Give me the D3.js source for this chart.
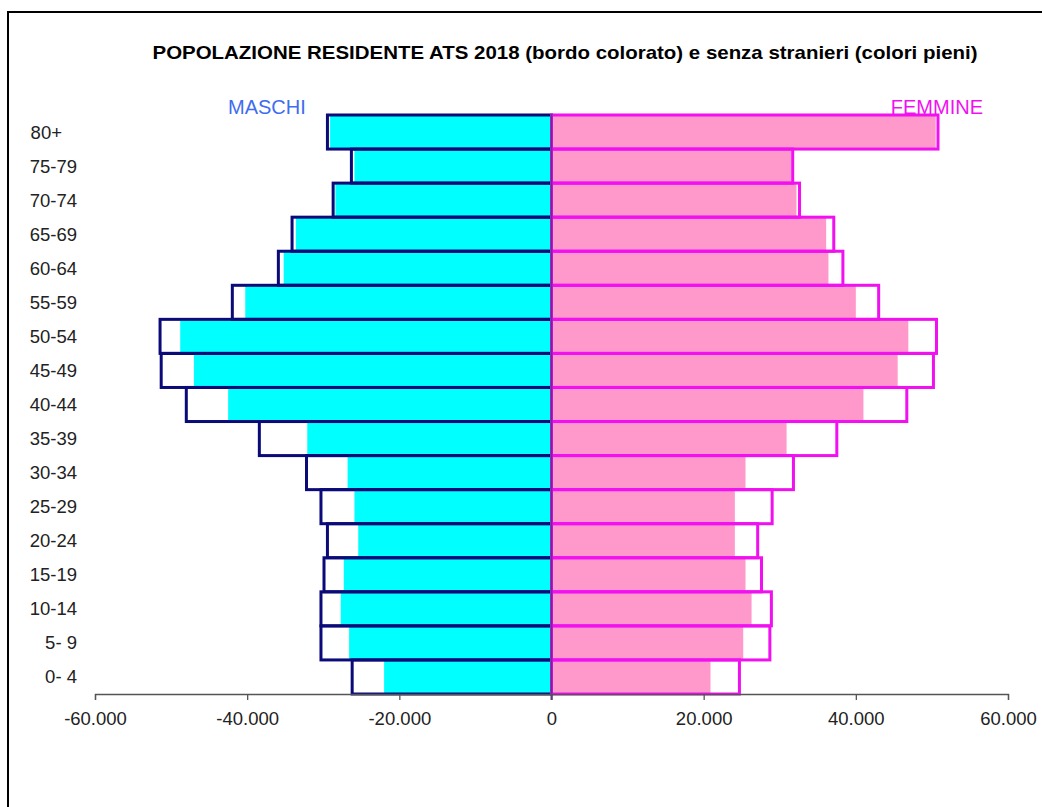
<!DOCTYPE html>
<html>
<head>
<meta charset="utf-8">
<script src="https://cdn.jsdelivr.net/npm/d3@7"></script>
<style>
  body { margin: 0; background: #fff; }
  text { font-family: "Liberation Sans", Arial, sans-serif; }
</style>
</head>
<body>
<div id="chart"></div>
<script>
// age classes, bottom to top
let ageClasses = ["0- 4", "5- 9", "10-14", "15-19", "20-24", "25-29", "30-34", "35-39",
  "40-44", "45-49", "50-54", "55-59", "60-64", "65-69", "70-74", "75-79", "80+"];

// total residents (outlined bars)
let maschiTot = [26200, 30300, 30300, 29900, 29450, 30300, 32200, 38400,
  48000, 51300, 51450, 41950, 35900, 34100, 28700, 26300, 29450];
let femmineTot = [24700, 28700, 28900, 27600, 27100, 29000, 31800, 37500,
  46700, 50200, 50600, 43000, 38300, 37100, 32600, 31700, 50800];

// residents without foreigners (filled bars)
let maschiIta = [22000, 26600, 27700, 27300, 25400, 25900, 26800, 32100,
  42500, 47000, 48800, 40250, 35200, 33600, 28400, 25900, 29100];
let femmineIta = [20900, 25200, 26300, 25500, 24100, 24100, 25500, 30900,
  41000, 45500, 46900, 40000, 36400, 36100, 32200, 31500, 50500];

let xTicks = [-60000, -40000, -20000, 0, 20000, 40000, 60000];

let width = 1042;
let height = 807;

let svg = d3.select("#chart")
  .append("svg")
  .attr("width", width)
  .attr("height", height);

// chart frame
svg.append("rect")
  .attr("x", 8).attr("y", 12)
  .attr("width", 1100).attr("height", 900)
  .attr("fill", "#fff")
  .attr("stroke", "#000")
  .attr("stroke-width", 2);

let fnX = d3.scaleLinear()
  .domain([-60000, 60000])
  .range([95, 1008]);

let fnY = d3.scaleBand()
  .domain(ageClasses.slice().reverse())
  .range([115, 694])
  .padding(0);

let rows = ageClasses.map((a, i) => ({
  age: a,
  mTot: maschiTot[i], fTot: femmineTot[i],
  mIta: maschiIta[i], fIta: femmineIta[i]
}));

// filled bars
svg.selectAll(".mIta").data(rows).enter().append("rect")
  .attr("x", d => fnX(-d.mIta))
  .attr("y", d => fnY(d.age))
  .attr("width", d => fnX(0) - fnX(-d.mIta))
  .attr("height", fnY.bandwidth())
  .attr("fill", "#00ffff");

svg.selectAll(".fIta").data(rows).enter().append("rect")
  .attr("x", fnX(0))
  .attr("y", d => fnY(d.age))
  .attr("width", d => fnX(d.fIta) - fnX(0))
  .attr("height", fnY.bandwidth())
  .attr("fill", "#ff99cc");

// outlined bars
svg.selectAll(".mTot").data(rows).enter().append("rect")
  .attr("x", d => fnX(-d.mTot))
  .attr("y", d => fnY(d.age))
  .attr("width", d => fnX(0) - fnX(-d.mTot))
  .attr("height", fnY.bandwidth())
  .attr("fill", "none")
  .attr("stroke", "#0a0a78")
  .attr("stroke-width", 3);

svg.selectAll(".fTot").data(rows).enter().append("rect")
  .attr("x", fnX(0))
  .attr("y", d => fnY(d.age))
  .attr("width", d => fnX(d.fTot) - fnX(0))
  .attr("height", fnY.bandwidth())
  .attr("fill", "none")
  .attr("stroke", "#f010f0")
  .attr("stroke-width", 3);

// zero line
svg.append("line")
  .attr("x1", fnX(0)).attr("x2", fnX(0))
  .attr("y1", 114).attr("y2", 700)
  .attr("stroke", "#6a2a9a")
  .attr("stroke-width", 2);

// x axis, italian number format
let itLocale = d3.formatLocale({ decimal: ",", thousands: ".", grouping: [3], currency: ["€", ""], minus: "-" });
let fnXAxis = d3.axisBottom(fnX)
  .tickValues(xTicks)
  .tickFormat(itLocale.format(","))
  .tickSize(6)
  .tickPadding(12);

let gx = svg.append("g")
  .attr("transform", "translate(0, 694)")
  .call(fnXAxis);
gx.select(".domain").attr("stroke", "#555").attr("stroke-width", 1.3);
gx.selectAll(".tick line").attr("stroke", "#555").attr("stroke-width", 1.3);
gx.selectAll(".tick text")
  .attr("fill", "#222")
  .style("font-size", "18.5px")
  .style("font-family", "'Liberation Sans', Arial, sans-serif");

// y labels
svg.selectAll(".ylab").data(rows).enter().append("text")
  .attr("x", d => d.age === "80+" ? 62 : 77)
  .attr("y", d => fnY(d.age) + fnY.bandwidth() / 2 + 6.5)
  .attr("text-anchor", "end")
  .attr("fill", "#222")
  .style("font-size", "18.5px")
  .text(d => d.age);

// title
svg.append("text")
  .attr("x", 565)
  .attr("y", 59)
  .attr("text-anchor", "middle")
  .attr("textLength", 825)
  .attr("lengthAdjust", "spacingAndGlyphs")
  .style("font-family", "'Liberation Sans Narrow', 'Arial Narrow', 'Liberation Sans', sans-serif")
  .style("font-weight", "bold")
  .style("font-size", "19px")
  .attr("fill", "#000")
  .text("POPOLAZIONE  RESIDENTE ATS 2018 (bordo colorato) e senza stranieri (colori pieni)");

// series labels
svg.append("text")
  .attr("x", 228).attr("y", 114)
  .attr("fill", "#3f6cf0")
  .style("font-size", "20px")
  .text("MASCHI");

svg.append("text")
  .attr("x", 983).attr("y", 114)
  .attr("text-anchor", "end")
  .attr("fill", "#f010f0")
  .style("font-size", "20px")
  .text("FEMMINE");
</script>
</body>
</html>
